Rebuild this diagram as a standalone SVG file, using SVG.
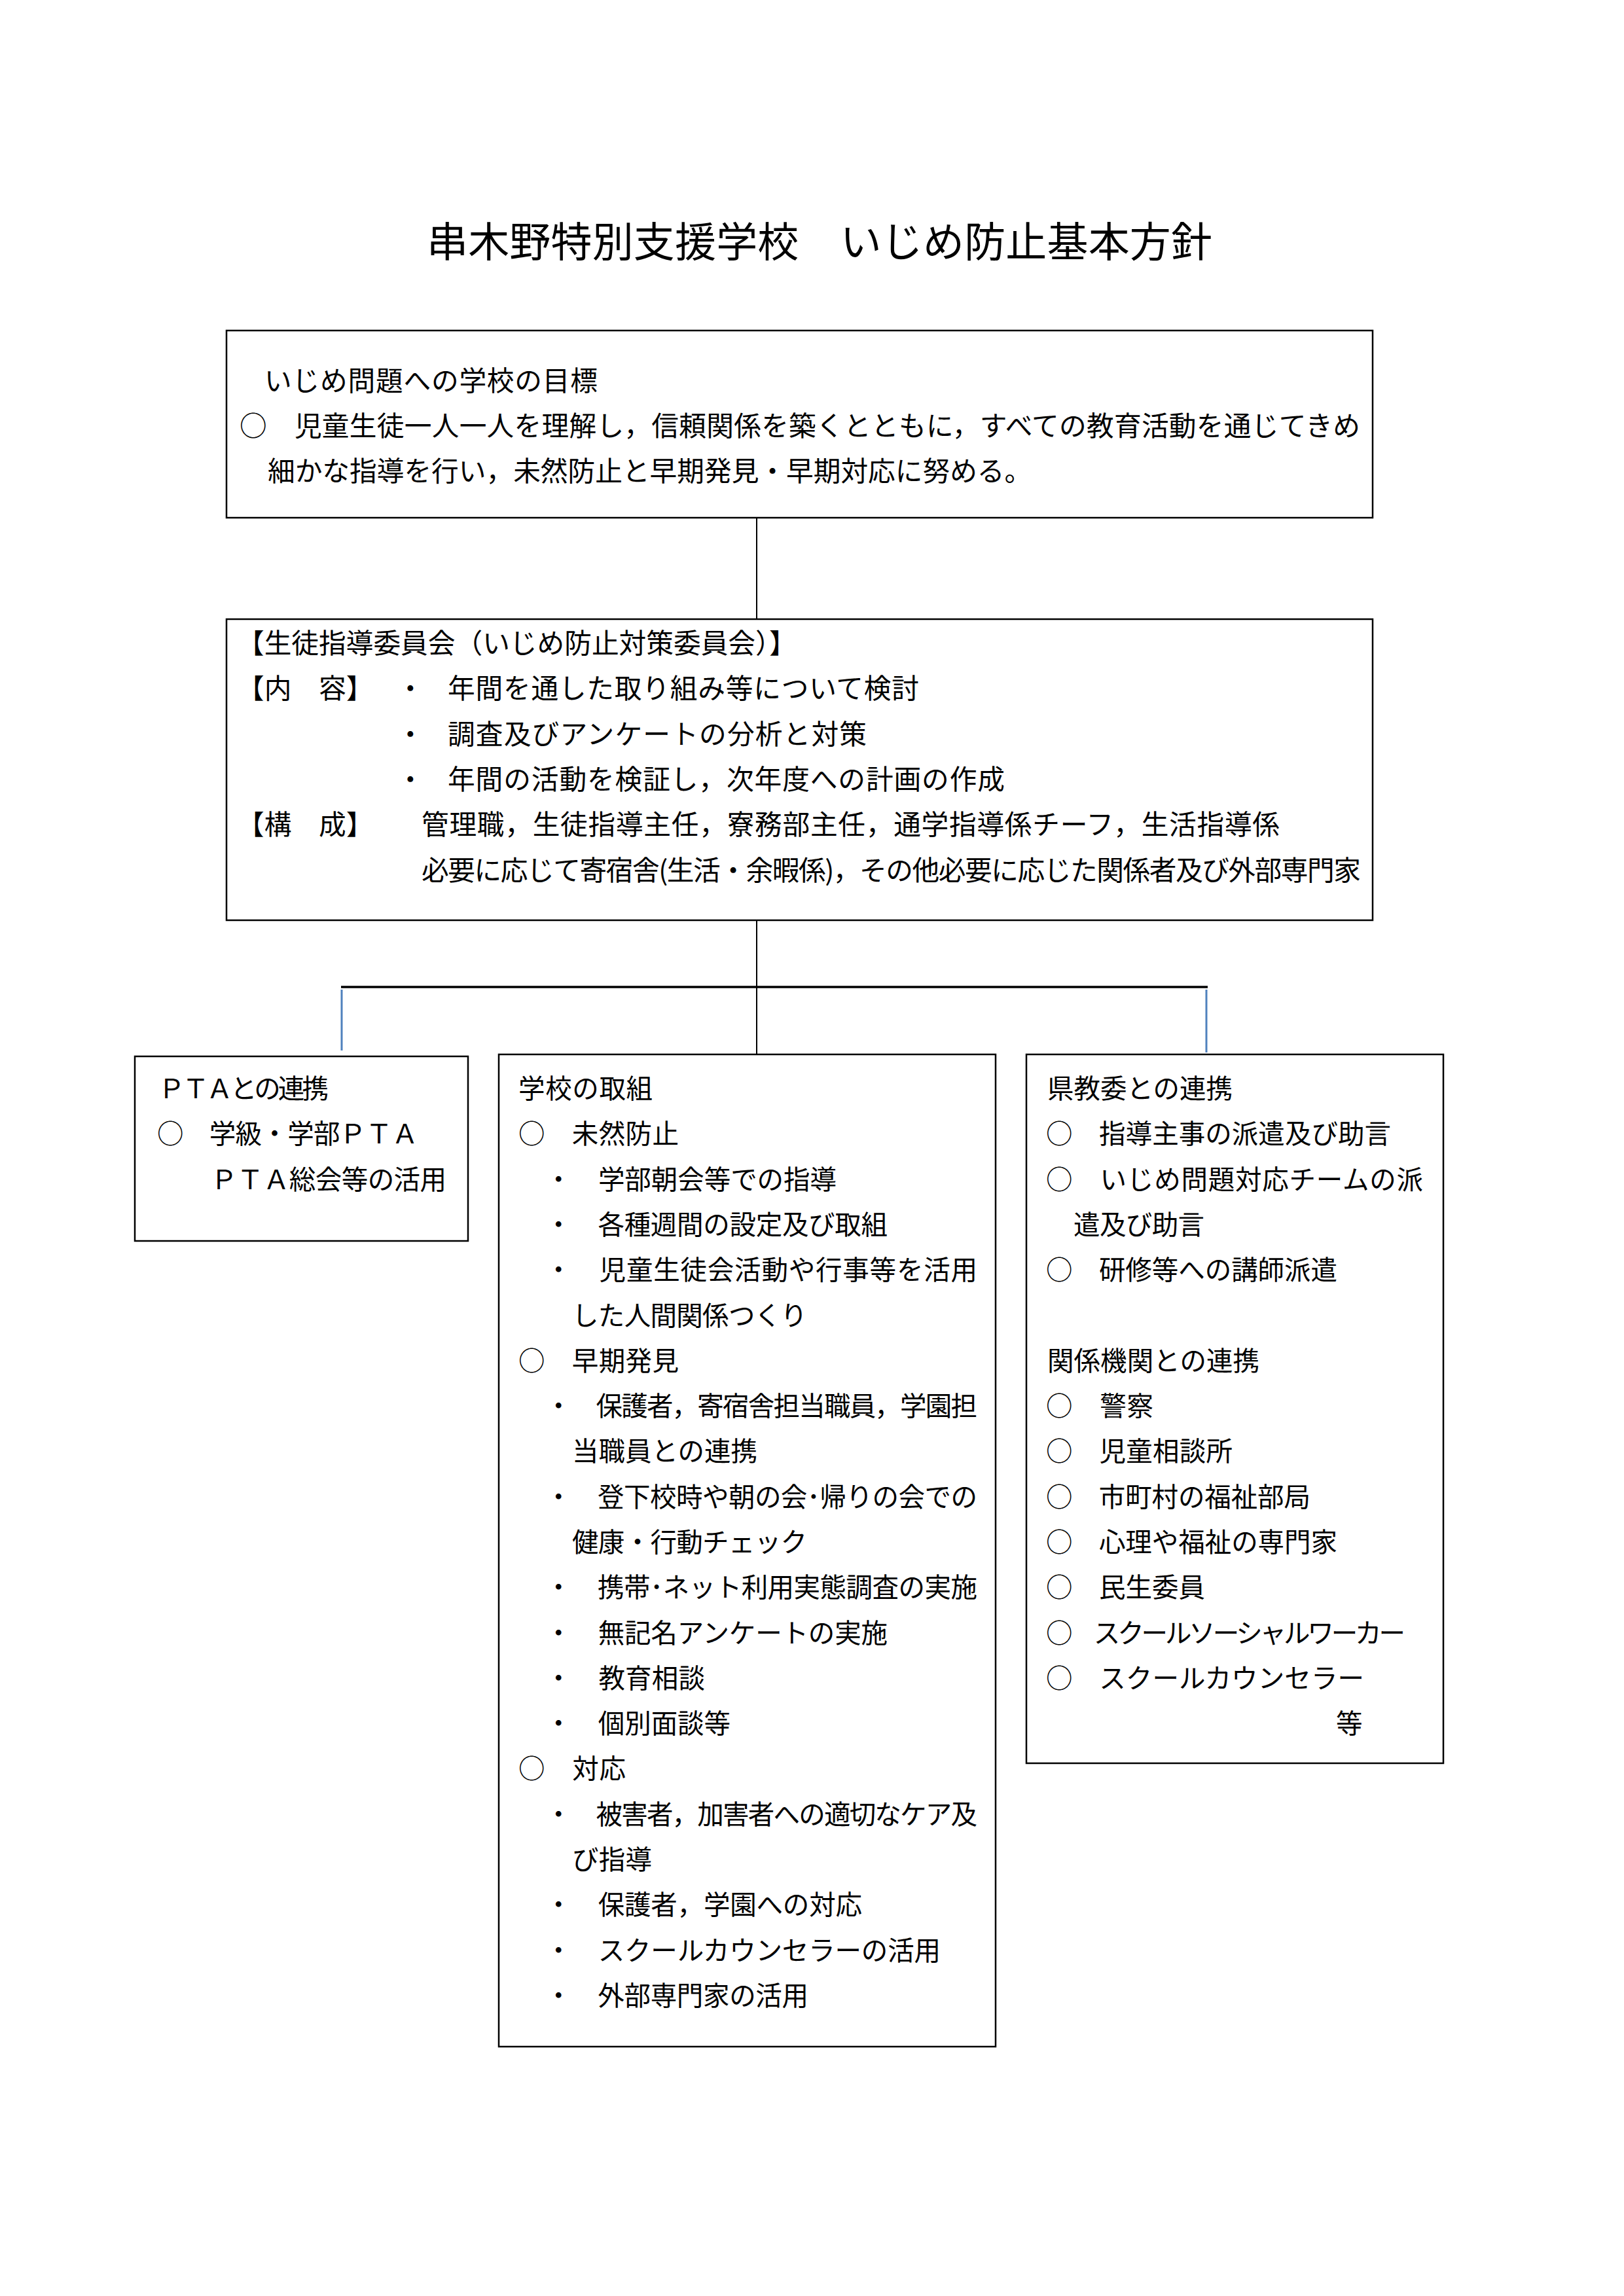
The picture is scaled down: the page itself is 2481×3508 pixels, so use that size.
<svg xmlns="http://www.w3.org/2000/svg" width="2481" height="3508" viewBox="0 0 2481 3508">
<style>
.t{font-family:"Noto Sans CJK JP","Noto Sans CJK SC",sans-serif;fill:#000;}
.ttl{font-size:63px;}
.f1{font-size:41.7px;}
.f2{font-size:40.5px;}
.box{fill:#fff;stroke:#000;stroke-width:2.5;}
.ln{stroke:#000;stroke-width:2;fill:none;}
.hl{stroke:#000;stroke-width:3.5;fill:none;}
.bl{stroke:#4f81bd;stroke-width:3;fill:none;}
</style>
<rect x="0" y="0" width="2481" height="3508" fill="#fff"/>
<g id="title">
<text class="t ttl" x="652" y="392" textLength="1200">串木野特別支援学校　いじめ防止基本方針</text>
</g>
<g id="connectors">
<line class="ln" x1="1156" y1="791" x2="1156" y2="946"/>
<line class="ln" x1="1156" y1="1406" x2="1156" y2="1611"/>
<line class="hl" x1="521" y1="1508" x2="1845" y2="1508"/>
<line class="bl" x1="522" y1="1512" x2="522" y2="1605"/>
<line class="bl" x1="1843" y1="1512" x2="1843" y2="1608"/>
</g>
<g id="node-goal">
<rect class="box" x="346" y="505" width="1751" height="286"/>
<text class="t f1" x="404" y="597" textLength="509">いじめ問題への学校の目標</text>
<text class="t f1" x="366" y="666" textLength="1712">○　児童生徒一人一人を理解し，信頼関係を築くとともに，すべての教育活動を通じてきめ</text>
<text class="t f1" x="409" y="735">細かな指導を行い，未然防止と早期発見・早期対応に努める。</text>
</g>
<g id="node-committee">
<rect class="box" x="346" y="946" width="1751" height="460"/>
<text class="t f1" x="362" y="998">【生徒指導委員会（いじめ防止対策委員会）】</text>
<text class="t f1" x="362" y="1067">【内　容】</text>
<text class="t f1" x="606" y="1067">・</text>
<text class="t f1" x="684" y="1067" textLength="720">年間を通した取り組み等について検討</text>
<text class="t f1" x="606" y="1137">・</text>
<text class="t f1" x="684" y="1137" textLength="640">調査及びアンケートの分析と対策</text>
<text class="t f1" x="606" y="1206">・</text>
<text class="t f1" x="684" y="1206" textLength="851">年間の活動を検証し，次年度への計画の作成</text>
<text class="t f1" x="362" y="1275">【構　成】</text>
<text class="t f1" x="644" y="1275" textLength="1311">管理職，生徒指導主任，寮務部主任，通学指導係チーフ，生活指導係</text>
<text class="t f1" x="644" y="1345" textLength="1435">必要に応じて寄宿舎(生活・余暇係)，その他必要に応じた関係者及び外部専門家</text>
</g>
<g id="node-pta">
<rect class="box" x="206" y="1614" width="509" height="282"/>
<text class="t f2" x="242" y="1678" textLength="260">ＰＴＡとの連携</text>
<text class="t f2" x="240" y="1747" textLength="399">○　学級・学部ＰＴＡ</text>
<text class="t f2" x="322" y="1817" textLength="360">ＰＴＡ総会等の活用</text>
</g>
<g id="node-school">
<rect class="box" x="762" y="1611" width="759" height="1516"/>
<text class="t f2" x="792" y="1678" textLength="205">学校の取組</text>
<text class="t f2" x="792" y="1747" textLength="245">○　未然防止</text>
<text class="t f2" x="833" y="1817" textLength="445">・　学部朝会等での指導</text>
<text class="t f2" x="833" y="1886" textLength="523">・　各種週間の設定及び取組</text>
<text class="t f2" x="833" y="1955" textLength="660">・　児童生徒会活動や行事等を活用</text>
<text class="t f2" x="874" y="2025" textLength="359">した人間関係つくり</text>
<text class="t f2" x="792" y="2094" textLength="245">○　早期発見</text>
<text class="t f2" x="833" y="2163" textLength="660">・　保護者，寄宿舎担当職員，学園担</text>
<text class="t f2" x="874" y="2232" textLength="283">当職員との連携</text>
<text class="t f2" x="833" y="2302" textLength="660">・　登下校時や朝の会･帰りの会での</text>
<text class="t f2" x="874" y="2371" textLength="359">健康・行動チェック</text>
<text class="t f2" x="833" y="2440" textLength="660">・　携帯･ネット利用実態調査の実施</text>
<text class="t f2" x="833" y="2510" textLength="523">・　無記名アンケートの実施</text>
<text class="t f2" x="833" y="2579" textLength="244">・　教育相談</text>
<text class="t f2" x="833" y="2648" textLength="283">・　個別面談等</text>
<text class="t f2" x="792" y="2717" textLength="164">○　対応</text>
<text class="t f2" x="833" y="2787" textLength="660">・　被害者，加害者への適切なケア及</text>
<text class="t f2" x="874" y="2856" textLength="122">び指導</text>
<text class="t f2" x="833" y="2925" textLength="484">・　保護者，学園への対応</text>
<text class="t f2" x="833" y="2995" textLength="604">・　スクールカウンセラーの活用</text>
<text class="t f2" x="833" y="3064" textLength="402">・　外部専門家の活用</text>
</g>
<g id="node-board">
<rect class="box" x="1568" y="1611" width="637" height="1083"/>
<text class="t f2" x="1600" y="1678" textLength="283">県教委との連携</text>
<text class="t f2" x="1598" y="1747" textLength="527">○　指導主事の派遣及び助言</text>
<text class="t f2" x="1598" y="1817" textLength="576">○　いじめ問題対応チームの派</text>
<text class="t f2" x="1640" y="1886" textLength="200">遣及び助言</text>
<text class="t f2" x="1598" y="1955" textLength="445">○　研修等への講師派遣</text>
<text class="t f2" x="1600" y="2094" textLength="324">関係機関との連携</text>
<text class="t f2" x="1598" y="2163" textLength="164">○　警察</text>
<text class="t f2" x="1598" y="2232" textLength="285">○　児童相談所</text>
<text class="t f2" x="1598" y="2302" textLength="404">○　市町村の福祉部局</text>
<text class="t f2" x="1598" y="2371" textLength="445">○　心理や福祉の専門家</text>
<text class="t f2" x="1598" y="2440">○　民生委員</text>
<text class="t f2" x="1598" y="2510" textLength="549">○　スクールソーシャルワーカー</text>
<text class="t f2" x="1598" y="2579" textLength="486">○　スクールカウンセラー</text>
<text class="t f2" x="2041" y="2648">等</text>
</g>
</svg>
